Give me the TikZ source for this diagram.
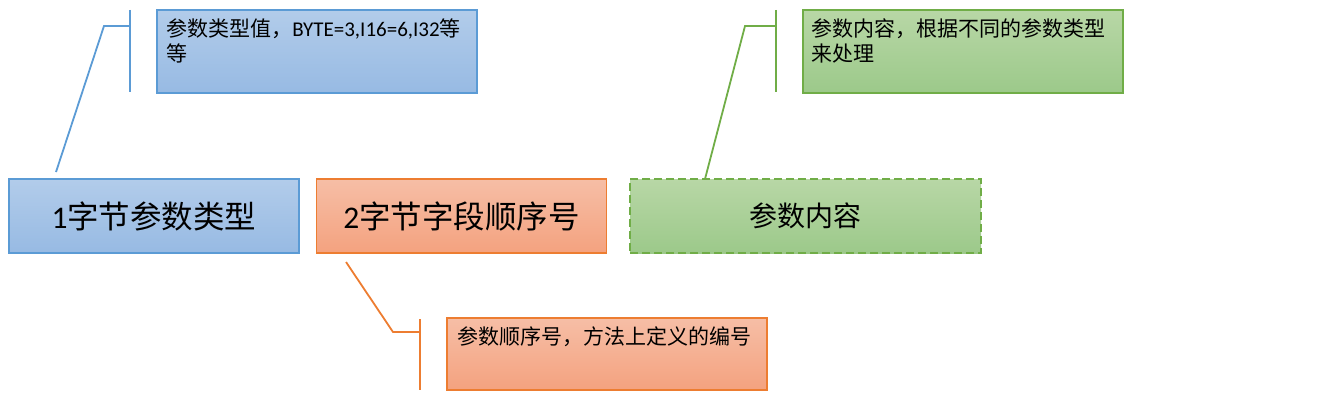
\documentclass[tikz,border=0pt]{standalone}
\usepackage{fontspec}
\setmainfont{Carlito}
\newfontfamily\cjk{Noto Sans CJK SC}
\usetikzlibrary{positioning}
\definecolor{typeline}{HTML}{5B9BD5}
\definecolor{typetop}{HTML}{B2CCEA}
\definecolor{typebot}{HTML}{97BAE3}
\definecolor{orderline}{HTML}{ED7D31}
\definecolor{ordertop}{HTML}{F6BEA6}
\definecolor{orderbot}{HTML}{F4A27F}
\definecolor{valueline}{HTML}{70AD47}
\definecolor{valuetop}{HTML}{B8D7A6}
\definecolor{valuebot}{HTML}{9CC98A}
\begin{document}
\begin{tikzpicture}[
    x=1pt, y=-1pt,
    field/.style={rectangle, line width=1.8pt, minimum width=290pt, minimum height=74pt,
      inner sep=0pt, font=\fontsize{31.5}{35}\selectfont},
    note/.style={rectangle, line width=1.8pt, minimum width=320pt, minimum height=83pt, inner sep=0pt},
    notetext/.style={inner sep=0pt, align=left, font=\fontsize{21}{25}\selectfont},
    typefill/.style={draw=typeline, top color=typetop, bottom color=typebot},
    orderfill/.style={draw=orderline, top color=ordertop, bottom color=orderbot},
    valuefill/.style={draw=valueline, top color=valuetop, bottom color=valuebot},
    lead/.style={line width=1.8pt},
]
  \useasboundingbox (0,0) rectangle (1332,404);
  % the three fields
  \node [field, typefill]  (type)  at (154,216)   {1{\cjk 字节参数类型}};
  \node [field, orderfill] (order) at (461.5,216) {2{\cjk 字节字段顺序号}};
  \node [field, valuefill, minimum width=351pt, dash pattern=on 8pt off 4pt,
         font=\fontsize{28}{31}\selectfont] (value) at (805.5,216) {\cjk 参数内容};
  % notes
  \node [note, typefill]  (typenote)  at (317,51.5)  {};
  \node [note, valuefill] (valuenote) at (963,51.5)  {};
  \node [note, orderfill, minimum height=72pt] (ordernote) at (607,354) {};
  \node [notetext, below right=9pt and 10pt of typenote.north west]
        {{\cjk 参数类型值，}BYTE=3,I16=6,I32{\cjk 等}\\{\cjk 等}};
  \node [notetext, below right=9pt and 9pt of valuenote.north west]
        {{\cjk 参数内容，根据不同的参数类型}\\{\cjk 来处理}};
  \node [notetext, below right=9pt and 11pt of ordernote.north west]
        {\cjk 参数顺序号，方法上定义的编号};
  % leaders
  \coordinate (typefoot)      at (56,172);
  \coordinate (typeknee)      at (104,26);
  \coordinate (typebartop)    at (130,10);
  \coordinate (typebarbot)    at (130,92);
  \coordinate (valuefoot)     at (705,179);
  \coordinate (valueknee)     at (745,26);
  \coordinate (valuebartop)   at (776,10);
  \coordinate (valuebarbot)   at (776,92);
  \coordinate (orderfoot)     at (346,262);
  \coordinate (orderknee)     at (393,332);
  \coordinate (orderbartop)   at (420,319);
  \coordinate (orderbarbot)   at (420,390);
  \draw [lead, typeline]  (typefoot) -- (typeknee) -- (typeknee -| typebartop);
  \draw [lead, typeline]  (typebartop) -- (typebarbot);
  \draw [lead, valueline] (valuefoot) -- (valueknee) -- (valueknee -| valuebartop);
  \draw [lead, valueline] (valuebartop) -- (valuebarbot);
  \draw [lead, orderline] (orderfoot) -- (orderknee) -- (orderknee -| orderbartop);
  \draw [lead, orderline] (orderbartop) -- (orderbarbot);
\end{tikzpicture}
\end{document}
